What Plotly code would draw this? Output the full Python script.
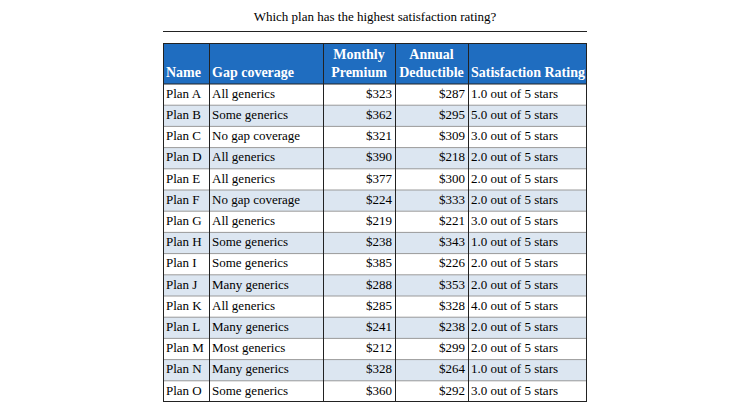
import numpy as np
import plotly.graph_objects as go

title = "Which plan has the highest satisfaction rating?"
header_line1 = ["", "", "Monthly", "Annual", ""]
header_line2 = ["Name", "Gap coverage", "Premium", "Deductible", "Satisfaction Rating"]
names = ["Plan A", "Plan B", "Plan C", "Plan D", "Plan E", "Plan F", "Plan G", "Plan H",
         "Plan I", "Plan J", "Plan K", "Plan L", "Plan M", "Plan N", "Plan O"]
gap = ["All generics", "Some generics", "No gap coverage", "All generics", "All generics",
       "No gap coverage", "All generics", "Some generics", "Some generics", "Many generics",
       "All generics", "Many generics", "Most generics", "Many generics", "Some generics"]
premium = [323, 362, 321, 390, 377, 224, 219, 238, 385, 288, 285, 241, 212, 328, 360]
deductible = [287, 295, 309, 218, 300, 333, 221, 343, 226, 353, 328, 238, 299, 264, 292]
rating = [1.0, 5.0, 3.0, 2.0, 2.0, 2.0, 3.0, 1.0, 2.0, 2.0, 4.0, 2.0, 2.0, 1.0, 3.0]

# ---- layout / style constants (pixels) ----
W, H = 750, 405
left, top = 163, 43
col_widths = [46, 114, 72, 73, 119]
col_align = ["left", "left", "right", "right", "left"]
header_h = 41
row_h = 21.2
pad = 3
header_line_y = [12, 30]
FONT = "Liberation Serif"
HEADER_BLUE = "#1F6DC0"
ROW_BLUE = "#DCE6F1"

columns = [
    names,
    gap,
    [f"${v}" for v in premium],
    [f"${v}" for v in deductible],
    [f"{r:.1f} out of 5 stars" for r in rating],
]
n = len(names)
x_edges = np.concatenate([[0], np.cumsum(col_widths)])
y_edges = np.concatenate([[0], header_h + row_h * np.arange(n + 1)])
total_w = float(x_edges[-1])
total_h = float(y_edges[-1])
row_centers = header_h + row_h * (np.arange(n) + 0.5)

fig = go.Figure()

# cell fills
z = [[2] * len(columns)] + [[i % 2] * len(columns) for i in range(n)]
fig.add_trace(go.Heatmap(
    x=x_edges, y=y_edges, z=z, zmin=0, zmax=2,
    colorscale=[[0, "#FFFFFF"], [0.5, ROW_BLUE], [1, HEADER_BLUE]],
    showscale=False, hoverinfo="skip",
))

# header text
for c in range(len(columns)):
    if col_align[c] == "right" or header_line1[c]:
        xc = (x_edges[c] + x_edges[c + 1]) / 2
        pos = "middle center"
    else:
        xc = x_edges[c] + pad
        pos = "middle right"
    lines = [header_line1[c], header_line2[c]]
    fig.add_trace(go.Scatter(
        x=[xc, xc], y=header_line_y, mode="text", text=lines, textposition=pos,
        textfont=dict(family=FONT, size=14, color="white", weight="bold"),
        hoverinfo="skip", showlegend=False, cliponaxis=False,
    ))

# body text
for c, vals in enumerate(columns):
    if col_align[c] == "left":
        xs = [x_edges[c] + pad] * n
        pos = "middle right"
    else:
        xs = [x_edges[c + 1] - pad] * n
        pos = "middle left"
    fig.add_trace(go.Scatter(
        x=xs, y=row_centers, mode="text", text=vals, textposition=pos,
        textfont=dict(family=FONT, size=13, color="black"),
        hoverinfo="skip", showlegend=False, cliponaxis=False,
    ))

# grid lines
shapes = []
for y in y_edges[2:-1]:
    shapes.append(dict(type="line", xref="x", yref="y", x0=0, x1=total_w, y0=y, y1=y,
                       line=dict(color="#9A9A9A", width=1), layer="above"))
for y in [y_edges[1]]:
    shapes.append(dict(type="line", xref="x", yref="y", x0=0, x1=total_w, y0=y, y1=y,
                       line=dict(color="#222222", width=1), layer="above"))
for i, x in enumerate(x_edges):
    xx = x + 0.5 if i < len(x_edges) - 1 else x - 0.5
    shapes.append(dict(type="line", xref="x", yref="y", x0=xx, x1=xx, y0=0, y1=total_h,
                       line=dict(color="#222222", width=1), layer="above"))
for y in [0.5, total_h - 0.5]:
    shapes.append(dict(type="line", xref="x", yref="y", x0=0, x1=total_w, y0=y, y1=y,
                       line=dict(color="#222222", width=1), layer="above"))
# rule under the title
rule_y = 1 + 11.5 / total_h
shapes.append(dict(type="line", xref="paper", yref="paper", x0=0, x1=1, y0=rule_y, y1=rule_y,
                   line=dict(color="#222222", width=1)))

fig.update_layout(
    width=W, height=H,
    margin=dict(l=left, r=W - left - total_w, t=top, b=H - top - total_h, pad=0),
    paper_bgcolor="white", plot_bgcolor="white",
    title=dict(text=title, x=0.5, xanchor="center", y=1 - 16 / H, yanchor="middle",
               font=dict(family=FONT, size=13, color="black")),
    xaxis=dict(range=[0, total_w], visible=False, fixedrange=True),
    yaxis=dict(range=[total_h, 0], visible=False, fixedrange=True),
    shapes=shapes,
    hovermode=False,
    showlegend=False,
)
fig.write_html("out.html", config={"displayModeBar": False},
               post_script="document.body.style.margin='0';")
